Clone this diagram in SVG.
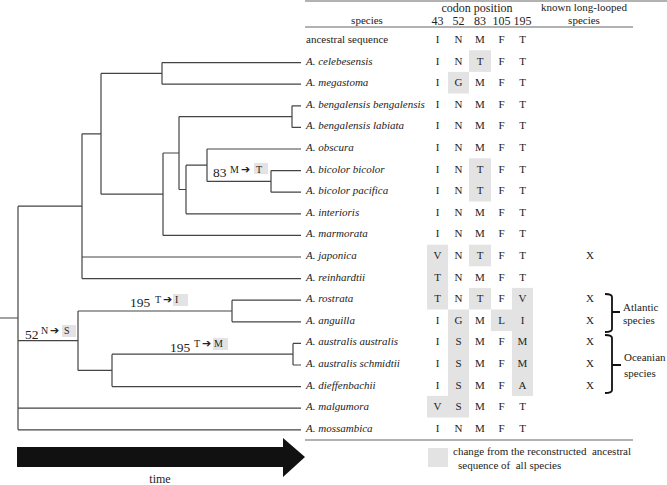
<svg xmlns="http://www.w3.org/2000/svg" width="667" height="485" viewBox="0 0 667 485">
<style>
text{font-family:"Liberation Serif","Times New Roman",serif;fill:#222}
.sp{font-size:11px;font-style:italic}
.an{font-size:11px}
.c{font-size:11px;text-anchor:middle}
.h{font-size:12px;text-anchor:middle}
.h2{font-size:11px;text-anchor:middle}
.x{font-size:11px;text-anchor:middle}
.mut{font-size:13.5px}
.sm{font-size:10px}
.arr{font-family:"DejaVu Sans",sans-serif;font-size:11px;font-weight:bold;fill:#222}
.sh{fill:#e3e3e3}
.rule{stroke:#999;stroke-width:1.5;fill:none}
#tree path{stroke:#444;stroke-width:1.2;fill:none}
.br{stroke:#111;stroke-width:1.8;fill:none}
</style>
<rect width="667" height="485" fill="#fff"/>

<!-- header rules -->
<g id="rules">
<line class="rule" x1="305" y1="1" x2="667" y2="1"/>
<line class="rule" x1="305" y1="27" x2="633" y2="27"/>
<line class="rule" x1="305" y1="440" x2="633" y2="440"/>
</g>

<g id="header">
<text class="h" x="477" y="12">codon position</text>
<text class="h2" x="584" y="11">known long-looped</text>
<text class="h2" x="367" y="24">species</text>
<text class="h2" x="584" y="24">species</text>
<text class="h" x="437.5" y="25">43</text>
<text class="h" x="458.5" y="25">52</text>
<text class="h" x="480" y="25">83</text>
<text class="h" x="501.5" y="25">105</text>
<text class="h" x="522.5" y="25">195</text>
</g>

<!-- shaded cells -->
<g id="shading">
<rect class="sh" x="469" y="50.3" width="22" height="21.6"/>
<rect class="sh" x="448" y="71.9" width="21" height="21.6"/>
<rect class="sh" x="469" y="158.3" width="22" height="43.2"/>
<rect class="sh" x="427" y="244.7" width="21" height="64.8"/>
<rect class="sh" x="469" y="244.7" width="22" height="21.6"/>
<rect class="sh" x="469" y="287.9" width="22" height="21.6"/>
<rect class="sh" x="512" y="287.9" width="21" height="108"/>
<rect class="sh" x="448" y="309.5" width="21" height="108"/>
<rect class="sh" x="491" y="309.5" width="21" height="21.6"/>
<rect class="sh" x="427" y="395.9" width="21" height="21.6"/>
</g>

<!-- table rows -->
<g id="row0"><text class="an" x="306" y="43">ancestral sequence</text><text class="c" x="437.5" y="43">I</text><text class="c" x="458.5" y="43">N</text><text class="c" x="480" y="43">M</text><text class="c" x="501.5" y="43">F</text><text class="c" x="522.5" y="43">T</text></g>
<g id="row1"><text class="sp" x="306" y="64.6">A. celebesensis</text><text class="c" x="437.5" y="64.6">I</text><text class="c" x="458.5" y="64.6">N</text><text class="c" x="480" y="64.6">T</text><text class="c" x="501.5" y="64.6">F</text><text class="c" x="522.5" y="64.6">T</text></g>
<g id="row2"><text class="sp" x="306" y="86.2">A. megastoma</text><text class="c" x="437.5" y="86.2">I</text><text class="c" x="458.5" y="86.2">G</text><text class="c" x="480" y="86.2">M</text><text class="c" x="501.5" y="86.2">F</text><text class="c" x="522.5" y="86.2">T</text></g>
<g id="row3"><text class="sp" x="306" y="107.8">A. bengalensis bengalensis</text><text class="c" x="437.5" y="107.8">I</text><text class="c" x="458.5" y="107.8">N</text><text class="c" x="480" y="107.8">M</text><text class="c" x="501.5" y="107.8">F</text><text class="c" x="522.5" y="107.8">T</text></g>
<g id="row4"><text class="sp" x="306" y="129.4">A. bengalensis labiata</text><text class="c" x="437.5" y="129.4">I</text><text class="c" x="458.5" y="129.4">N</text><text class="c" x="480" y="129.4">M</text><text class="c" x="501.5" y="129.4">F</text><text class="c" x="522.5" y="129.4">T</text></g>
<g id="row5"><text class="sp" x="306" y="151">A. obscura</text><text class="c" x="437.5" y="151">I</text><text class="c" x="458.5" y="151">N</text><text class="c" x="480" y="151">M</text><text class="c" x="501.5" y="151">F</text><text class="c" x="522.5" y="151">T</text></g>
<g id="row6"><text class="sp" x="306" y="172.6">A. bicolor bicolor</text><text class="c" x="437.5" y="172.6">I</text><text class="c" x="458.5" y="172.6">N</text><text class="c" x="480" y="172.6">T</text><text class="c" x="501.5" y="172.6">F</text><text class="c" x="522.5" y="172.6">T</text></g>
<g id="row7"><text class="sp" x="306" y="194.2">A. bicolor pacifica</text><text class="c" x="437.5" y="194.2">I</text><text class="c" x="458.5" y="194.2">N</text><text class="c" x="480" y="194.2">T</text><text class="c" x="501.5" y="194.2">F</text><text class="c" x="522.5" y="194.2">T</text></g>
<g id="row8"><text class="sp" x="306" y="215.8">A. interioris</text><text class="c" x="437.5" y="215.8">I</text><text class="c" x="458.5" y="215.8">N</text><text class="c" x="480" y="215.8">M</text><text class="c" x="501.5" y="215.8">F</text><text class="c" x="522.5" y="215.8">T</text></g>
<g id="row9"><text class="sp" x="306" y="237.4">A. marmorata</text><text class="c" x="437.5" y="237.4">I</text><text class="c" x="458.5" y="237.4">N</text><text class="c" x="480" y="237.4">M</text><text class="c" x="501.5" y="237.4">F</text><text class="c" x="522.5" y="237.4">T</text></g>
<g id="row10"><text class="sp" x="306" y="259">A. japonica</text><text class="c" x="437.5" y="259">V</text><text class="c" x="458.5" y="259">N</text><text class="c" x="480" y="259">T</text><text class="c" x="501.5" y="259">F</text><text class="c" x="522.5" y="259">T</text><text class="x" x="590" y="259">X</text></g>
<g id="row11"><text class="sp" x="306" y="280.6">A. reinhardtii</text><text class="c" x="437.5" y="280.6">T</text><text class="c" x="458.5" y="280.6">N</text><text class="c" x="480" y="280.6">M</text><text class="c" x="501.5" y="280.6">F</text><text class="c" x="522.5" y="280.6">T</text></g>
<g id="row12"><text class="sp" x="306" y="302.2">A. rostrata</text><text class="c" x="437.5" y="302.2">T</text><text class="c" x="458.5" y="302.2">N</text><text class="c" x="480" y="302.2">T</text><text class="c" x="501.5" y="302.2">F</text><text class="c" x="522.5" y="302.2">V</text><text class="x" x="590" y="302.2">X</text></g>
<g id="row13"><text class="sp" x="306" y="323.8">A. anguilla</text><text class="c" x="437.5" y="323.8">I</text><text class="c" x="458.5" y="323.8">G</text><text class="c" x="480" y="323.8">M</text><text class="c" x="501.5" y="323.8">L</text><text class="c" x="522.5" y="323.8">I</text><text class="x" x="590" y="323.8">X</text></g>
<g id="row14"><text class="sp" x="306" y="345.4">A. australis australis</text><text class="c" x="437.5" y="345.4">I</text><text class="c" x="458.5" y="345.4">S</text><text class="c" x="480" y="345.4">M</text><text class="c" x="501.5" y="345.4">F</text><text class="c" x="522.5" y="345.4">M</text><text class="x" x="590" y="345.4">X</text></g>
<g id="row15"><text class="sp" x="306" y="367">A. australis schmidtii</text><text class="c" x="437.5" y="367">I</text><text class="c" x="458.5" y="367">S</text><text class="c" x="480" y="367">M</text><text class="c" x="501.5" y="367">F</text><text class="c" x="522.5" y="367">M</text><text class="x" x="590" y="367">X</text></g>
<g id="row16"><text class="sp" x="306" y="388.6">A. dieffenbachii</text><text class="c" x="437.5" y="388.6">I</text><text class="c" x="458.5" y="388.6">S</text><text class="c" x="480" y="388.6">M</text><text class="c" x="501.5" y="388.6">F</text><text class="c" x="522.5" y="388.6">A</text><text class="x" x="590" y="388.6">X</text></g>
<g id="row17"><text class="sp" x="306" y="410.2">A. malgumora</text><text class="c" x="437.5" y="410.2">V</text><text class="c" x="458.5" y="410.2">S</text><text class="c" x="480" y="410.2">M</text><text class="c" x="501.5" y="410.2">F</text><text class="c" x="522.5" y="410.2">T</text></g>
<g id="row18"><text class="sp" x="306" y="431.8">A. mossambica</text><text class="c" x="437.5" y="431.8">I</text><text class="c" x="458.5" y="431.8">N</text><text class="c" x="480" y="431.8">M</text><text class="c" x="501.5" y="431.8">F</text><text class="c" x="522.5" y="431.8">T</text></g>

<!-- brackets -->
<g id="atlantic">
<path class="br" d="M605,294 Q612,294 612,297 V329 Q612,332 605,332 M612,312 H620"/>
<text class="an" x="623" y="311">Atlantic</text>
<text class="an" x="623" y="324">species</text>
</g>
<g id="oceanian">
<path class="br" d="M605,335 Q612,335 612,338 V390 Q612,393 605,393 M612,365 H621"/>
<text class="an" x="624" y="361">Oceanian</text>
<text class="an" x="624" y="377">species</text>
</g>

<!-- tree connectors -->
<g id="tree">
<path d="M0,318 H18 M18,206.2 V429.8 M18,206.2 H82 M18,340.7 H78 M18,408.2 H301 M18,429.8 H301"/>
<path d="M82,133.8 V278.6 M82,133.8 H101 M82,257 H301 M82,278.6 H301"/>
<path d="M101,73.4 V194.2 M101,73.4 H162 M101,194.2 H163"/>
<path d="M162,62.6 V84.2 M162,62.6 H301 M162,84.2 H301"/>
<path d="M163,153 V235.4 M163,153 H179 M163,235.4 H301"/>
<path d="M179,116.6 V189.5 M179,116.6 H292 M179,189.5 H186"/>
<path d="M292,105.8 V127.4 M292,105.8 H301 M292,127.4 H301"/>
<path d="M186,165.2 V213.8 M186,165.2 H207 M186,213.8 H301"/>
<path d="M207,149 V181.4 M207,149 H301 M207,181.4 H271"/>
<path d="M271,170.6 V192.2 M271,170.6 H301 M271,192.2 H301"/>
<path d="M78,311 V370.4 M78,311 H232 M78,370.4 H112"/>
<path d="M232,300.2 V321.8 M232,300.2 H301 M232,321.8 H301"/>
<path d="M112,354.2 V386.6 M112,354.2 H293 M112,386.6 H301"/>
<path d="M293,343.4 V365 M293,343.4 H301 M293,365 H301"/>
</g>

<!-- mutation labels -->
<g id="mut83">
<rect class="sh" x="254" y="163" width="14" height="11"/>
<text class="mut" x="213" y="177">83</text>
<text class="sm" x="230" y="172.5">M</text>
<text class="arr" x="241" y="172.5">➔</text>
<text class="sm" x="256" y="172.5">T</text>
</g>
<g id="mut195a">
<rect class="sh" x="173" y="294" width="15" height="12"/>
<text class="mut" x="130" y="307">195</text>
<text class="sm" x="155" y="302.5">T</text>
<text class="arr" x="163" y="302.5">➔</text>
<text class="sm" x="175" y="302.5">I</text>
</g>
<g id="mut52">
<rect class="sh" x="62" y="325" width="14" height="12"/>
<text class="mut" x="25" y="339">52</text>
<text class="sm" x="41" y="333.5">N</text>
<text class="arr" x="50" y="333.5">➔</text>
<text class="sm" x="64" y="333.5">S</text>
</g>
<g id="mut195b">
<rect class="sh" x="213" y="338" width="15" height="12"/>
<text class="mut" x="170" y="352">195</text>
<text class="sm" x="194" y="346.5">T</text>
<text class="arr" x="202" y="346.5">➔</text>
<text class="sm" x="214" y="346.5">M</text>
</g>

<!-- legend -->
<g id="legend">
<rect class="sh" x="428" y="448" width="20" height="19"/>
<text class="an" x="453" y="455" xml:space="preserve">change from the reconstructed  ancestral</text>
<text class="an" x="458" y="469" xml:space="preserve">sequence of  all species</text>
</g>

<!-- time arrow -->
<g id="time">
<polygon points="17,447 283,447 283,438 305,457 283,477 283,467 17,467" fill="#111"/>
<text class="h" x="160" y="483">time</text>
</g>
</svg>
